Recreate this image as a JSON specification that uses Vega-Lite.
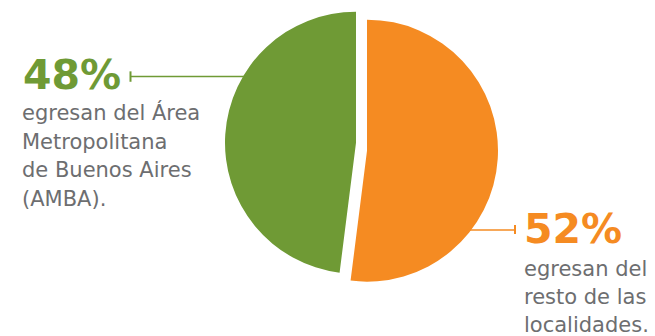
{
  "$schema": "https://vega.github.io/schema/vega-lite/v6.json",
  "width": 655,
  "height": 336,
  "autosize": {"type": "fit", "contains": "padding"},
  "padding": 0,
  "background": "white",
  "config": {"view": {"stroke": null}},
  "data": {
    "values": [
      {"region": "resto", "share": 0.52, "desc": ["egresan del", "resto de las", "localidades."]},
      {"region": "AMBA", "share": 0.48, "desc": ["egresan del Área", "Metropolitana", "de Buenos Aires", "(AMBA)."]}
    ]
  },
  "transform": [
    {"stack": "share", "groupby": [], "sort": [{"field": "share", "order": "descending"}], "as": ["s0", "s1"]}
  ],
  "encoding": {
    "x": {"type": "quantitative", "scale": {"domain": [0, 655]}, "axis": null},
    "y": {"type": "quantitative", "scale": {"domain": [0, 336], "reverse": true}, "axis": null}
  },
  "layer": [
    {
      "transform": [{"filter": "datum.region === 'resto'"}],
      "mark": {"type": "arc", "outerRadius": 131, "color": "#f58b22"},
      "encoding": {
        "x": {"datum": 367, "type": "quantitative"},
        "y": {"datum": 152, "type": "quantitative"},
        "theta": {"field": "s0", "type": "quantitative", "scale": {"domain": [0, 1], "range": [0, 6.283185]}},
        "theta2": {"field": "s1"}
      }
    },
    {
      "transform": [{"filter": "datum.region === 'AMBA'"}],
      "mark": {"type": "arc", "outerRadius": 131, "color": "#6f9a35"},
      "encoding": {
        "x": {"datum": 356, "type": "quantitative"},
        "y": {"datum": 144, "type": "quantitative"},
        "theta": {"field": "s0", "type": "quantitative", "scale": {"domain": [0, 1], "range": [0, 6.283185]}},
        "theta2": {"field": "s1"}
      }
    },
    {
      "transform": [{"filter": "datum.region === 'AMBA'"}],
      "mark": {"type": "rule", "color": "#6f9a35", "strokeWidth": 1.5},
      "encoding": {
        "x": {"datum": 130, "type": "quantitative"},
        "x2": {"datum": 245},
        "y": {"datum": 77.3, "type": "quantitative"}
      }
    },
    {
      "transform": [{"filter": "datum.region === 'AMBA'"}],
      "mark": {"type": "rule", "color": "#6f9a35", "strokeWidth": 2},
      "encoding": {
        "x": {"datum": 130.5, "type": "quantitative"},
        "y": {"datum": 72, "type": "quantitative"},
        "y2": {"datum": 82.5}
      }
    },
    {
      "transform": [{"filter": "datum.region === 'resto'"}],
      "mark": {"type": "rule", "color": "#f58b22", "strokeWidth": 1.5},
      "encoding": {
        "x": {"datum": 470, "type": "quantitative"},
        "x2": {"datum": 515},
        "y": {"datum": 232, "type": "quantitative"}
      }
    },
    {
      "transform": [{"filter": "datum.region === 'resto'"}],
      "mark": {"type": "rule", "color": "#f58b22", "strokeWidth": 2},
      "encoding": {
        "x": {"datum": 515, "type": "quantitative"},
        "y": {"datum": 227, "type": "quantitative"},
        "y2": {"datum": 236}
      }
    },
    {
      "transform": [{"filter": "datum.region === 'AMBA'"}],
      "mark": {"type": "text", "align": "left", "baseline": "alphabetic", "font": "DejaVu Sans", "fontSize": 41, "fontWeight": "bold", "color": "#6f9a35"},
      "encoding": {
        "x": {"datum": 23, "type": "quantitative"},
        "y": {"datum": 89.5, "type": "quantitative"},
        "text": {"field": "share", "type": "quantitative", "format": ".0%"}
      }
    },
    {
      "transform": [{"filter": "datum.region === 'AMBA'"}],
      "mark": {"type": "text", "align": "left", "baseline": "alphabetic", "font": "DejaVu Sans", "fontSize": 21, "lineHeight": 28.4, "color": "#6d6e70"},
      "encoding": {
        "x": {"datum": 22, "type": "quantitative"},
        "y": {"datum": 121.5, "type": "quantitative"},
        "text": {"field": "desc"}
      }
    },
    {
      "transform": [{"filter": "datum.region === 'resto'"}],
      "mark": {"type": "text", "align": "left", "baseline": "alphabetic", "font": "DejaVu Sans", "fontSize": 41, "fontWeight": "bold", "color": "#f58b22"},
      "encoding": {
        "x": {"datum": 524, "type": "quantitative"},
        "y": {"datum": 245, "type": "quantitative"},
        "text": {"field": "share", "type": "quantitative", "format": ".0%"}
      }
    },
    {
      "transform": [{"filter": "datum.region === 'resto'"}],
      "mark": {"type": "text", "align": "left", "baseline": "alphabetic", "font": "DejaVu Sans", "fontSize": 21, "lineHeight": 28.4, "color": "#6d6e70"},
      "encoding": {
        "x": {"datum": 524, "type": "quantitative"},
        "y": {"datum": 278, "type": "quantitative"},
        "text": {"field": "desc"}
      }
    }
  ]
}
